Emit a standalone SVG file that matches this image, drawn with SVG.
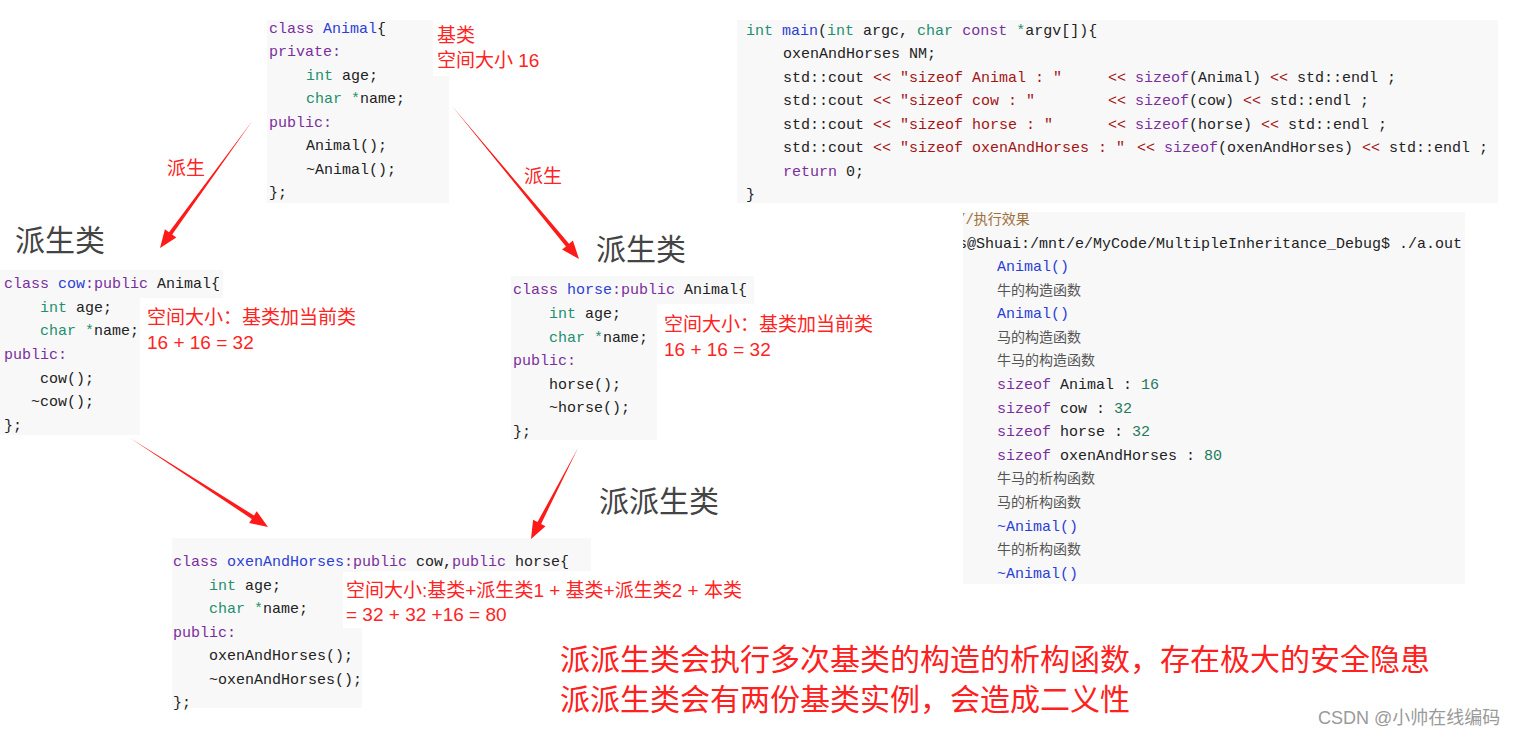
<svg xmlns="http://www.w3.org/2000/svg" width="1523" height="737" viewBox="0 0 1523 737">
<style>
.bg{fill:#f8f8f8}
.code{font-family:"Liberation Mono","DejaVu Sans Mono",monospace;font-size:15px;fill:#222;white-space:pre}
.kw{fill:#7b2f9e}
.ty{fill:#1f8f6f}
.cn{fill:#2b3fd6}
.st{fill:#a31515}
.num{fill:#1f7a5a}
.cjk{font-family:"Noto Sans CJK SC",sans-serif;font-size:14px;fill:#555}
.red{font-family:"Liberation Sans","Noto Sans CJK SC",sans-serif;font-size:19px;fill:#ff2424}
.title{font-family:"Noto Sans CJK SC",sans-serif;font-size:30px;fill:#444}
.big{font-family:"Noto Sans CJK SC",sans-serif;font-size:30px;fill:#ff2020}
.arrow{fill:#ff1a1a}
</style>
<defs>
<clipPath id="outclip"><rect x="963" y="212" width="502" height="372"/></clipPath>
</defs>
<rect width="1523" height="737" fill="#ffffff"/>

<g id="animal">
<rect class="bg" x="267" y="20" width="182" height="183"/>
<rect x="433" y="20" width="115" height="56" fill="#ffffff"/>
<text class="code" xml:space="preserve"><tspan x="269" y="33"><tspan class="kw">class</tspan> <tspan class="cn">Animal</tspan>{</tspan><tspan x="269" y="56" class="kw">private:</tspan><tspan x="306" y="80"><tspan class="ty">int</tspan> age;</tspan><tspan x="306" y="103"><tspan class="ty">char</tspan> <tspan class="ty">*</tspan>name;</tspan><tspan x="269" y="127" class="kw">public:</tspan><tspan x="306" y="150">Animal();</tspan><tspan x="306" y="174">~Animal();</tspan><tspan x="269" y="197">};</tspan></text>
<text class="red" x="437" y="42">基类</text>
<text class="red" x="437" y="67">空间大小 16</text>
</g>

<g id="cow">
<rect class="bg" x="0" y="270" width="223" height="28"/>
<rect class="bg" x="0" y="297" width="140" height="138"/>
<text class="title" x="15" y="251">派生类</text>
<text class="code" xml:space="preserve"><tspan x="4" y="288"><tspan class="kw">class</tspan> <tspan class="cn">cow</tspan><tspan class="kw">:public</tspan> Animal{</tspan><tspan x="40" y="312"><tspan class="ty">int</tspan> age;</tspan><tspan x="40" y="335"><tspan class="ty">char</tspan> <tspan class="ty">*</tspan>name;</tspan><tspan x="4" y="359" class="kw">public:</tspan><tspan x="40" y="383">cow();</tspan><tspan x="31" y="406">~cow();</tspan><tspan x="4" y="430">};</tspan></text>
<text class="red" x="147" y="324">空间大小：基类加当前类</text>
<text class="red" x="147" y="349">16 + 16 = 32</text>
</g>

<g id="horse">
<rect class="bg" x="511" y="276" width="243" height="28"/>
<rect class="bg" x="511" y="303" width="146" height="137"/>
<text class="title" x="596" y="260">派生类</text>
<text class="code" xml:space="preserve"><tspan x="513" y="294"><tspan class="kw">class</tspan> <tspan class="cn">horse</tspan><tspan class="kw">:public</tspan> Animal{</tspan><tspan x="549" y="318"><tspan class="ty">int</tspan> age;</tspan><tspan x="549" y="342"><tspan class="ty">char</tspan> <tspan class="ty">*</tspan>name;</tspan><tspan x="513" y="365" class="kw">public:</tspan><tspan x="549" y="389">horse();</tspan><tspan x="549" y="412">~horse();</tspan><tspan x="513" y="436">};</tspan></text>
<text class="red" x="664" y="331">空间大小：基类加当前类</text>
<text class="red" x="664" y="356">16 + 16 = 32</text>
</g>

<g id="oxenAndHorses">
<rect class="bg" x="172" y="538" width="419" height="33"/>
<rect class="bg" x="172" y="570" width="190" height="138"/>
<text class="title" x="599" y="512">派派生类</text>
<text class="code" xml:space="preserve"><tspan x="173" y="566"><tspan class="kw">class</tspan> <tspan class="cn">oxenAndHorses</tspan><tspan class="kw">:public</tspan> cow,<tspan class="kw">public</tspan> horse{</tspan><tspan x="209" y="590"><tspan class="ty">int</tspan> age;</tspan><tspan x="209" y="613"><tspan class="ty">char</tspan> <tspan class="ty">*</tspan>name;</tspan><tspan x="173" y="637" class="kw">public:</tspan><tspan x="209" y="660">oxenAndHorses();</tspan><tspan x="209" y="684">~oxenAndHorses();</tspan><tspan x="173" y="707">};</tspan></text>
<rect x="343" y="572" width="422" height="56" fill="#ffffff"/>
<text class="red" x="346" y="597">空间大小:基类+派生类1 + 基类+派生类2 + 本类</text>
<text class="red" x="346" y="621">= 32 + 32 +16 = 80</text>
</g>

<g id="main">
<rect class="bg" x="737" y="20" width="761" height="183"/>
<text class="code" xml:space="preserve"><tspan x="746" y="35"><tspan class="ty">int</tspan> <tspan class="cn">main</tspan>(<tspan class="ty">int</tspan> argc, <tspan class="ty">char</tspan> <tspan class="kw">const</tspan> <tspan class="ty">*</tspan>argv[]){</tspan><tspan x="783" y="58">oxenAndHorses NM;</tspan><tspan x="783" y="82">std::cout <tspan class="st">&lt;&lt; "sizeof Animal : "</tspan></tspan><tspan x="1108" y="82"><tspan class="st">&lt;&lt;</tspan> <tspan class="kw">sizeof</tspan>(Animal) <tspan class="st">&lt;&lt;</tspan> std::endl ;</tspan><tspan x="783" y="105">std::cout <tspan class="st">&lt;&lt; "sizeof cow : "</tspan></tspan><tspan x="1108" y="105"><tspan class="st">&lt;&lt;</tspan> <tspan class="kw">sizeof</tspan>(cow) <tspan class="st">&lt;&lt;</tspan> std::endl ;</tspan><tspan x="783" y="129">std::cout <tspan class="st">&lt;&lt; "sizeof horse : "</tspan></tspan><tspan x="1108" y="129"><tspan class="st">&lt;&lt;</tspan> <tspan class="kw">sizeof</tspan>(horse) <tspan class="st">&lt;&lt;</tspan> std::endl ;</tspan><tspan x="783" y="152">std::cout <tspan class="st">&lt;&lt; "sizeof oxenAndHorses : "</tspan></tspan><tspan x="1137" y="152"><tspan class="st">&lt;&lt;</tspan> <tspan class="kw">sizeof</tspan>(oxenAndHorses) <tspan class="st">&lt;&lt;</tspan> std::endl ;</tspan><tspan x="783" y="176"><tspan class="kw">return</tspan> 0;</tspan><tspan x="746" y="199">}</tspan></text>
</g>

<g id="output">
<rect class="bg" x="963" y="212" width="502" height="372"/>
<g clip-path="url(#outclip)">
<text x="957" y="224" font-family="Liberation Mono,monospace" font-size="14" fill="#a0703a">//<tspan font-family="Noto Sans CJK SC,sans-serif">执行效果</tspan></text>
<text class="code" x="958" y="248">s@Shuai:/mnt/e/MyCode/MultipleInheritance_Debug$ ./a.out</text>
</g>
<text class="code cn" x="997" y="271">Animal()</text>
<text class="cjk" x="997" y="295">牛的构造函数</text>
<text class="code cn" x="997" y="318">Animal()</text>
<text class="cjk" x="997" y="342">马的构造函数</text>
<text class="cjk" x="997" y="365">牛马的构造函数</text>
<text class="code" xml:space="preserve" x="997" y="389"><tspan class="kw">sizeof</tspan> Animal : <tspan class="num">16</tspan></text>
<text class="code" xml:space="preserve" x="997" y="413"><tspan class="kw">sizeof</tspan> cow : <tspan class="num">32</tspan></text>
<text class="code" xml:space="preserve" x="997" y="436"><tspan class="kw">sizeof</tspan> horse : <tspan class="num">32</tspan></text>
<text class="code" xml:space="preserve" x="997" y="460"><tspan class="kw">sizeof</tspan> oxenAndHorses : <tspan class="num">80</tspan></text>
<text class="cjk" x="997" y="483">牛马的析构函数</text>
<text class="cjk" x="997" y="507">马的析构函数</text>
<text class="code cn" x="997" y="531">~Animal()</text>
<text class="cjk" x="997" y="554">牛的析构函数</text>
<text class="code cn" x="997" y="578">~Animal()</text>
</g>

<g id="connectors">
<polygon class="arrow" points="253,120 172.2,234.6 176.3,237.5 160,248 164.9,229.3 169.0,232.2"/>
<polygon class="arrow" points="452,106 565.96,246.38 562.1,249.6 579,259 572.9,240.6 569.04,243.82"/>
<polygon class="arrow" points="130,438 251.8,518.9 249.1,523.1 268,527 256.7,511.3 254.0,515.5"/>
<polygon class="arrow" points="578,448 541.1,523.9 545.5,526.2 531,539 533.1,519.8 537.5,522.1"/>
<text class="red" x="167" y="175">派生</text>
<text class="red" x="524" y="183">派生</text>
</g>

<g id="notes">
<text class="big" x="560" y="670">派派生类会执行多次基类的构造的析构函数，存在极大的安全隐患</text>
<text class="big" x="560" y="710">派派生类会有两份基类实例，会造成二义性</text>
<text x="1318" y="724" font-family="Liberation Sans,Noto Sans CJK SC,sans-serif" font-size="18" fill="#9a9a9a">CSDN @小帅在线编码</text>
</g>
</svg>
